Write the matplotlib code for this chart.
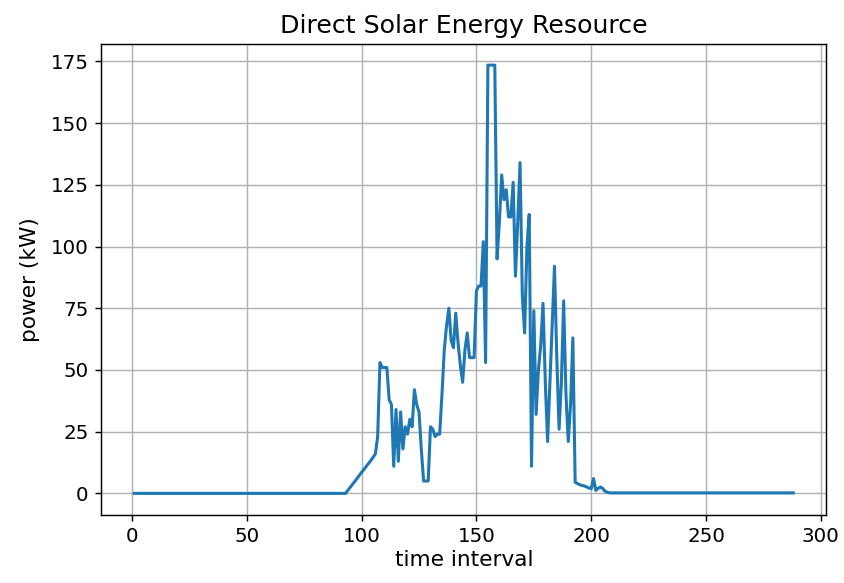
import numpy as np
import matplotlib
matplotlib.use('Agg')
import matplotlib.pyplot as plt

# Potência solar direta por intervalo de 5 minutos (1..288)
night_start = [0.0] * 93          # intervalos 1-93
ramp_up = [1.2, 2.4, 3.6, 4.8, 6.0, 7.3, 8.5, 9.7, 10.9, 12.1, 13.3, 14.6, 16.0, 23.0]  # 94-107
day = [53, 51, 51, 51, 38, 36, 11, 34, 13, 33,            # 108-117
       18, 27, 24, 30, 27, 42, 36, 33, 18, 5,             # 118-127
       5, 5, 27, 26, 23, 24, 24, 40, 58, 68,              # 128-137
       75, 62, 59, 73, 61, 52, 45, 58, 65, 55,            # 138-147
       55, 55, 82, 84, 84, 102, 53, 173.5, 173.5, 173.5,  # 148-157
       173.5, 95, 110, 129, 119, 123, 112, 112, 126, 88,  # 158-167
       110, 134, 80, 65, 100, 113, 11, 74, 32, 50,        # 168-177
       60, 77, 45, 21, 45, 70, 92, 55, 26, 45,            # 178-187
       78, 40, 21, 36, 63, 4.5, 4.0, 3.5, 3.2, 3.0,       # 188-197
       2.6, 2.2, 1.9, 6.0, 1.2, 2.0, 2.6, 2.0, 0.8, 0.5]  # 198-207
night_end = [0.2] * (288 - 93 - len(ramp_up) - len(day))

power = np.array(night_start + ramp_up + day + night_end, dtype=float)
interval = np.arange(1, len(power) + 1)

fig = plt.figure(figsize=(844 / 130, 583 / 130), dpi=130)
ax = fig.add_axes([0.12, 0.117, 0.859, 0.808])

ax.plot(interval, power, linewidth=1.7)
ax.set_title('Direct Solar Energy Resource', fontsize=14)
ax.set_xlabel('time interval', fontsize=12, labelpad=2)
ax.set_ylabel('power (kW)', fontsize=12, labelpad=6)
ax.tick_params(labelsize=11)
ax.grid(True)

fig.savefig('out.png', dpi=130)
